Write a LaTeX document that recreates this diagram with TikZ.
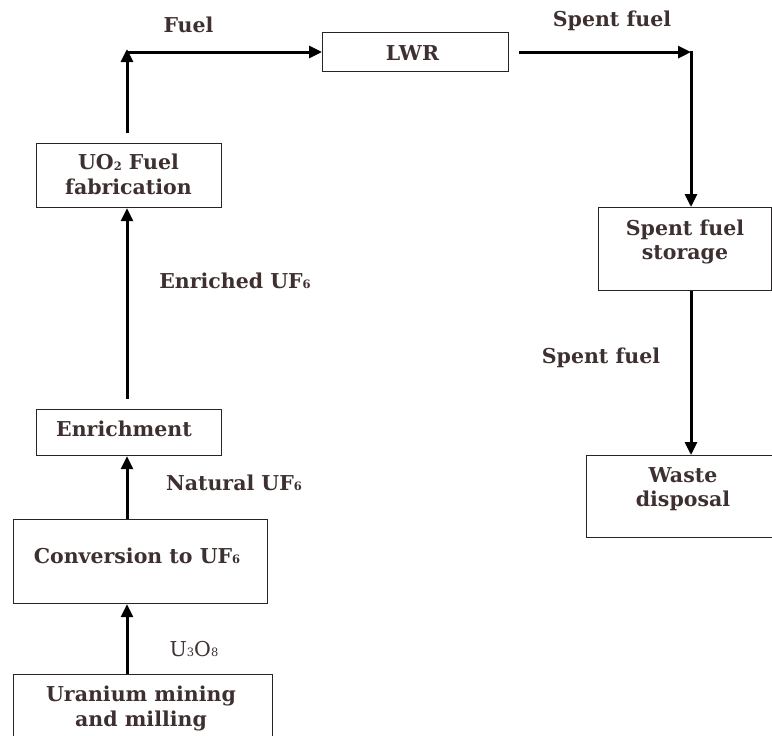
\documentclass[tikz,border=0pt]{standalone}
\usepackage{fontspec}
\setmainfont{DejaVu Serif}
\usetikzlibrary{arrows.meta}
\definecolor{ink}{RGB}{62,48,48}
\definecolor{frame}{RGB}{40,36,36}
% small chemical index digits
\newcommand\chsub[1]{\raisebox{-0.5pt}{\fontsize{11.5}{11.5}\selectfont #1}}

\begin{document}
\begin{tikzpicture}[x=1pt,y=-1pt,
  box/.style={draw=frame, line width=1.2pt, inner sep=0pt, anchor=north west},
  txt/.style={text=ink, font=\fontsize{20.5}{24.5}\selectfont\bfseries, align=center, inner sep=0pt},
  thin txt/.style={text=ink, font=\fontsize{20.5}{24.5}\selectfont, inner sep=0pt},
  flow/.style={line width=3pt, -{Triangle[length=13pt,width=12pt]}},
  ]
\useasboundingbox (0,0) rectangle (772,736);

% process boxes
\node[box, minimum width=186pt, minimum height=39pt] (lwr)   at (322,32)  {};
\node[box, minimum width=185pt, minimum height=64pt] (uo2)   at (36,143)  {};
\node[box, minimum width=185pt, minimum height=46pt] (enr)   at (36,409)  {};
\node[box, minimum width=254pt, minimum height=84pt] (conv)  at (13,519)  {};
\node[box, minimum width=259pt, minimum height=80pt] (mine)  at (13,674)  {};
\node[box, minimum width=173pt, minimum height=83pt] (stor)  at (598,207) {};
\node[box, minimum width=194pt, minimum height=82pt] (waste) at (586,455) {};

% box texts
\node[txt, anchor=base] (lwr-t)  at (412.5,60) {LWR};
\node[txt] (uo2-t)   at (128.5,174.2) {UO\chsub{2} Fuel\\fabrication};
\node[txt, anchor=base] (enr-t)  at (124,436) {Enrichment};
\node[txt, anchor=base] (conv-t) at (137,563) {Conversion to UF\chsub{6}};
\node[txt] (mine-t)  at (141,708.4) {Uranium mining\\and milling};
\node[txt] (stor-t)  at (685,242.1) {Spent fuel\\storage};
\node[txt] (waste-t) at (683,489.4) {Waste\\disposal};

% connector routing
\coordinate (spine) at (127,0);
\coordinate (drop)  at (691,0);
\coordinate (fuelturn) at (127,52);

\draw[flow] (spine |- mine.north) -- (spine |- conv.south);
\draw[flow] (spine |- conv.north) -- (spine |- enr.south);
\draw[flow, shorten <=10pt] (spine |- enr.north) -- (spine |- uo2.south);
\draw[flow, shorten <=10pt, shorten >=-3pt] (spine |- uo2.north) -- (fuelturn);
\draw[flow] (fuelturn) -- (fuelturn -| lwr.west);
\draw[flow, shorten <=10pt] (lwr.east) -- (lwr.east -| drop);
\draw[flow, shorten <=-1.5pt] (lwr.east -| drop) -- (drop |- stor.north);
\draw[flow] (drop |- stor.south) -- (drop |- waste.north);

% flow labels
\node[txt, anchor=base] (l-fuel)   at (188.5,32) {Fuel};
\node[txt, anchor=base] (l-spent1) at (612,27)   {Spent fuel};
\node[txt, anchor=base] (l-enr)    at (235,288)  {Enriched UF\chsub{6}};
\node[txt, anchor=base] (l-nat)    at (234,490)  {Natural UF\chsub{6}};
\node[thin txt, anchor=base] (l-u3o8) at (194,656) {U\chsub{3}O\chsub{8}};
\node[txt, anchor=base] (l-spent2) at (601,363)  {Spent fuel};
\end{tikzpicture}
\end{document}
